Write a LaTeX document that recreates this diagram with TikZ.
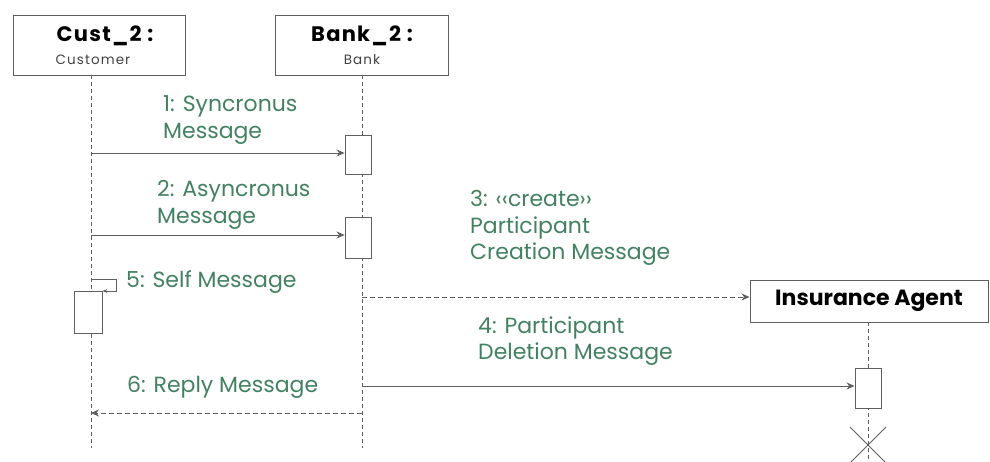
\documentclass[tikz,border=0pt]{standalone}
\usepackage{fontspec}
\setmainfont{Poppins}
\usetikzlibrary{arrows.meta,calc}
\definecolor{lbl}{RGB}{66,130,98}
\definecolor{ln}{RGB}{95,95,95}
\tikzset{
  x=1pt,y=1pt,
  objbox/.style={draw=ln,line width=1pt,fill=white,inner sep=0pt,align=center},
  actbox/.style={draw=ln,line width=0.9pt,fill=white,minimum width=26pt,inner sep=0pt},
  lifeline/.style={draw=ln,line width=0.8pt,dash pattern=on 4pt off 3pt},
  msg/.style={draw=ln,line width=0.9pt,-{Stealth[length=8pt,width=7pt]}},
  dmsg/.style={msg,dash pattern=on 5pt off 3pt},
  lab/.style={text=lbl,font=\fontsize{22}{26.5}\selectfont,align=left,anchor=west,inner sep=0pt},
  ttl/.style={font=\fontsize{21}{22}\selectfont\bfseries\addfontfeature{LetterSpace=6},inner sep=0pt},
  sub/.style={font=\fontsize{13.5}{15}\selectfont\addfontfeature{LetterSpace=8},inner sep=0pt,text=ln!70!black},
}
\begin{document}
\begin{tikzpicture}
\useasboundingbox[fill=white] (0,0) rectangle (990,-461);
% object boxes
\node[objbox,minimum width=172pt,minimum height=60pt] (cust) at (99,-45) {};
\node[ttl] (custt) at (105,-36) {Cust\_2 :};
\node[sub] (custs) at (93,-60) {Customer};
\node[objbox,minimum width=173pt,minimum height=60pt] (bank) at (361.5,-45) {};
\node[ttl] (bankt) at (362,-36) {Bank\_2 :};
\node[sub] (banks) at (362,-60) {Bank};
\node[objbox,minimum width=238pt,minimum height=42pt,font=\fontsize{22}{24}\selectfont\bfseries] (ins) at (869,-301) {Insurance Agent};
% lifeline coordinates
\coordinate (ctop) at (91,-75);
\coordinate (cbot) at (91,-448);
\coordinate (btop) at (362,-75);
\coordinate (bbot) at (362,-448);
\coordinate (itop) at (868,-322);
\coordinate (ibot) at (868,-461);
\draw[lifeline] (ctop) -- (cbot);
\draw[lifeline] (btop) -- (bbot);
\draw[lifeline] (itop) -- (ibot);
% activations
\node[actbox,minimum height=39pt] (a1) at (358,-154.5) {};
\node[actbox,minimum height=41pt] (a2) at (358,-237.5) {};
\node[actbox,minimum height=42pt,minimum width=28pt] (a3) at (88,-312) {};
\node[actbox,minimum height=40pt] (a4) at (868,-388) {};
% messages
\coordinate (m1s) at (91,-153);
\draw[msg] (m1s) -- (a1.west |- m1s);
\coordinate (m2s) at (91,-235);
\draw[msg] (m2s) -- (a2.west |- m2s);
\coordinate (s0) at (91,-279);
\coordinate (s1) at (116,-279);
\coordinate (s2) at (116,-291);
\draw[draw=ln,line width=0.9pt,-{Stealth[length=5pt,width=4pt]}] (s0) -- (s1) -- (s2) -- (a3.north east |- s2);
\coordinate (m3s) at (362,-297);
\draw[dmsg] (m3s) -- (ins.west |- m3s);
\coordinate (m4s) at (362,-386);
\draw[msg] (m4s) -- (a4.west |- m4s);
\coordinate (m6s) at (362,-413);
\coordinate (m6e) at (91,-413);
\draw[dmsg] (m6s) -- (m6e);
% destruction
\coordinate (xc) at (868,-445);
\draw[draw=ln,line width=0.9pt] ($(xc)+(-18,-18)$) -- ($(xc)+(18,18)$) ($(xc)+(-18,18)$) -- ($(xc)+(18,-18)$);
% labels
\node[lab] (l1) at (163,-120) {1: Syncronus\\Message};
\node[lab] (l2) at (157,-205) {2: Asyncronus\\Message};
\node[lab] (l5) at (126,-282) {5: Self Message};
\node[lab] (l3) at (470,-228) {3: ‹‹create››\\Participant\\Creation Message};
\node[lab] (l4) at (478,-341) {4: Participant\\Deletion Message};
\node[lab] (l6) at (127,-387) {6: Reply Message};
\end{tikzpicture}
\end{document}
